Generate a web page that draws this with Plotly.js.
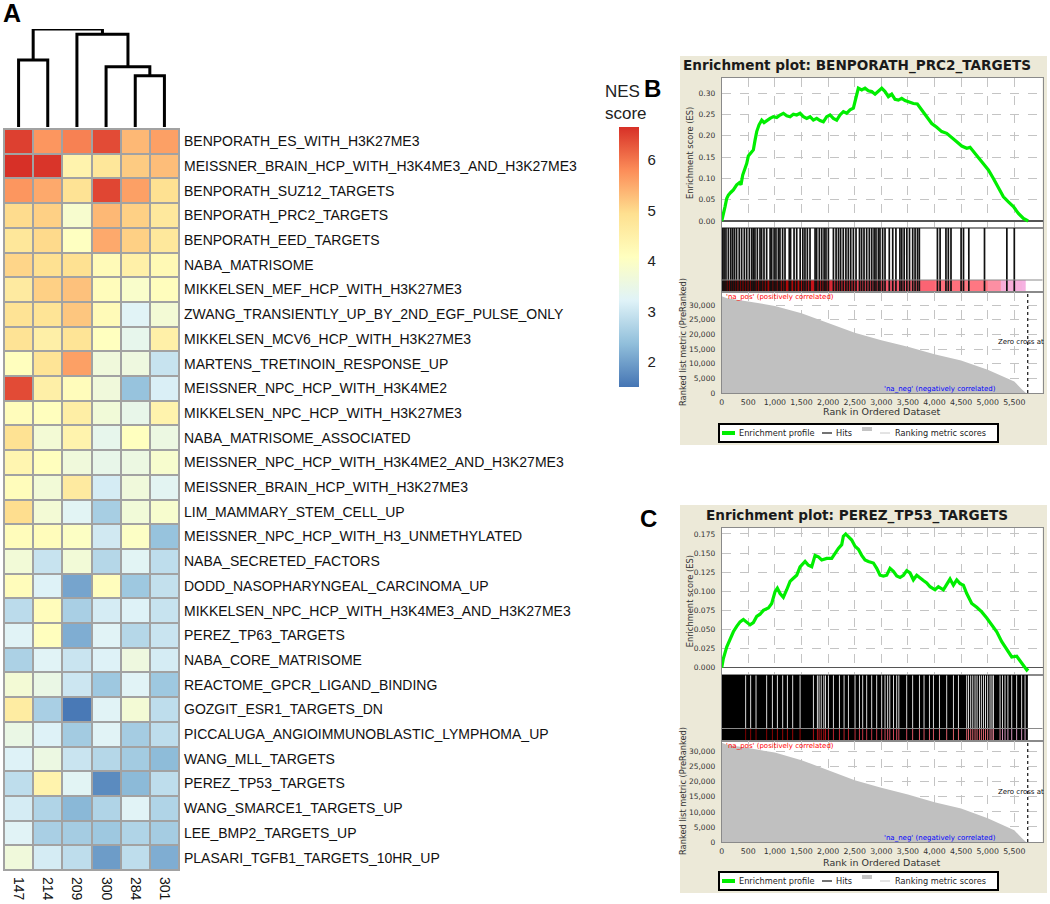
<!DOCTYPE html>
<html><head><meta charset="utf-8">
<script src="https://cdn.plot.ly/plotly-3.0.1.min.js"></script>
<style>html,body{margin:0;padding:0;background:#fff}</style>
</head><body><div id="chart" style="width:1050px;height:904px"></div>
<script>
// ================= DATA =================
const geneSets = [
 'BENPORATH_ES_WITH_H3K27ME3','MEISSNER_BRAIN_HCP_WITH_H3K4ME3_AND_H3K27ME3','BENPORATH_SUZ12_TARGETS',
 'BENPORATH_PRC2_TARGETS','BENPORATH_EED_TARGETS','NABA_MATRISOME','MIKKELSEN_MEF_HCP_WITH_H3K27ME3',
 'ZWANG_TRANSIENTLY_UP_BY_2ND_EGF_PULSE_ONLY','MIKKELSEN_MCV6_HCP_WITH_H3K27ME3','MARTENS_TRETINOIN_RESPONSE_UP',
 'MEISSNER_NPC_HCP_WITH_H3K4ME2','MIKKELSEN_NPC_HCP_WITH_H3K27ME3','NABA_MATRISOME_ASSOCIATED',
 'MEISSNER_NPC_HCP_WITH_H3K4ME2_AND_H3K27ME3','MEISSNER_BRAIN_HCP_WITH_H3K27ME3','LIM_MAMMARY_STEM_CELL_UP',
 'MEISSNER_NPC_HCP_WITH_H3_UNMETHYLATED','NABA_SECRETED_FACTORS','DODD_NASOPHARYNGEAL_CARCINOMA_UP',
 'MIKKELSEN_NPC_HCP_WITH_H3K4ME3_AND_H3K27ME3','PEREZ_TP63_TARGETS','NABA_CORE_MATRISOME',
 'REACTOME_GPCR_LIGAND_BINDING','GOZGIT_ESR1_TARGETS_DN','PICCALUGA_ANGIOIMMUNOBLASTIC_LYMPHOMA_UP',
 'WANG_MLL_TARGETS','PEREZ_TP53_TARGETS','WANG_SMARCE1_TARGETS_UP','LEE_BMP2_TARGETS_UP',
 'PLASARI_TGFB1_TARGETS_10HR_UP'
];
const samples = ['147','214','209','300','284','301'];
const nesScores = [
 [6.50,5.70,5.90,6.40,5.35,5.60],
 [6.65,6.60,4.40,4.75,5.15,5.30],
 [5.70,5.50,4.85,6.45,5.60,4.90],
 [4.97,5.10,3.85,5.35,5.10,4.70],
 [4.75,5.00,4.05,5.50,5.10,4.72],
 [5.05,4.90,4.90,4.20,4.50,4.25],
 [4.65,5.10,5.25,4.15,3.90,4.12],
 [4.85,4.82,5.20,4.20,3.25,3.75],
 [4.85,4.52,4.82,4.08,3.40,4.50],
 [4.10,4.82,5.60,3.65,3.60,2.95],
 [6.40,4.52,4.15,3.65,2.42,3.15],
 [4.15,4.10,4.55,3.70,3.45,4.40],
 [4.88,3.75,4.40,3.40,4.08,3.55],
 [4.35,4.10,3.65,3.45,3.55,3.85],
 [4.15,3.72,4.65,3.10,3.65,3.30],
 [4.95,3.75,3.28,2.60,3.70,3.85],
 [4.15,4.15,4.00,3.05,3.98,2.42],
 [3.72,2.95,3.72,2.75,3.28,2.85],
 [4.15,3.20,2.05,4.12,2.50,2.90],
 [2.82,4.15,2.62,3.10,3.20,2.95],
 [3.25,4.10,2.15,3.25,2.75,2.97],
 [2.65,3.25,2.97,3.20,3.60,3.10],
 [3.75,3.50,3.00,2.50,3.25,2.50],
 [4.60,2.62,1.55,3.25,3.75,2.85],
 [3.50,3.20,2.55,3.25,2.58,2.85],
 [3.20,3.55,2.97,2.75,2.55,2.32],
 [2.85,4.40,3.28,1.75,2.30,2.85],
 [3.10,2.70,2.28,2.70,3.25,2.70],
 [3.25,2.62,2.58,2.50,2.70,2.58],
 [3.65,3.10,2.85,1.95,2.85,2.15]
];
const nesTicks = [2,3,4,5,6];
// dendrogram merges: [child a, child b, height]; leaves 0..5, merges numbered from 6
const dendroMerges = [
 [4,5,5.13],
 [3,6,6.03],
 [0,1,6.70],
 [2,7,9.27],
 [8,9,9.80]
];

// ranked list (shared by panels B and C)
const rankedListRank   = [0, 100, 500, 1000, 1500, 2000, 2500, 3000, 3500, 4000, 4500, 5000, 5250, 5500, 5640, 5720];
const rankedListMetric = [33000, 32300, 31200, 29700, 27200, 23800, 20500, 18000, 15800, 13200, 11100, 7900, 6000, 3900, 1300, 0];
const zeroCrossRank = 5752;
const rankTickVals = [0,500,1000,1500,2000,2500,3000,3500,4000,4500,5000,5500];

// Panel B: BENPORATH_PRC2_TARGETS
const esB_rank = [0,31,63,94,125,169,219,282,332,363,395,439,470,501,545,595,627,658,702,752,796,846,909,971,1034,1097,1159,1222,1285,1347,1410,1473,1535,1598,1661,1723,1786,1848,1911,1974,2036,2099,2162,2224,2287,2350,2412,2475,2506,2538,2569,2632,2694,2757,2820,2882,2945,3008,3070,3133,3196,3258,3321,3384,3446,3509,3603,3678,3760,3854,3948,4042,4136,4230,4324,4418,4512,4606,4668,4731,4825,4919,5013,5107,5201,5295,5389,5483,5577,5671,5760];
const esB_score = [0,0.014,0.034,0.053,0.061,0.067,0.073,0.085,0.090,0.085,0.108,0.124,0.135,0.153,0.159,0.167,0.190,0.210,0.226,0.237,0.231,0.236,0.241,0.245,0.243,0.249,0.253,0.247,0.245,0.251,0.249,0.253,0.245,0.241,0.245,0.237,0.241,0.236,0.233,0.245,0.249,0.241,0.237,0.249,0.257,0.253,0.261,0.265,0.280,0.300,0.312,0.308,0.312,0.306,0.304,0.298,0.304,0.312,0.304,0.292,0.298,0.286,0.284,0.288,0.283,0.280,0.276,0.275,0.261,0.245,0.229,0.220,0.210,0.206,0.197,0.186,0.176,0.171,0.173,0.163,0.147,0.132,0.120,0.100,0.079,0.057,0.045,0.034,0.018,0.006,0];
const hitsB = [20,45,80,125,170,205,240,280,330,375,425,470,520,565,595,625,670,720,750,795,845,910,940,985,1020,1065,1095,1145,1190,1270,1295,1360,1410,1475,1525,1565,1610,1660,1755,1785,1835,1880,1925,1960,2005,2100,2150,2195,2235,2285,2335,2380,2425,2475,2525,2590,2630,2675,2725,2775,2820,2865,2900,2945,2975,3025,3070,3150,3215,3275,3350,3385,3430,3480,3530,3590,3635,3680,3715,4055,4105,4215,4260,4310,4500,4545,4645,4940,5360,5500];

// Panel C: PEREZ_TP53_TARGETS
const esC_rank = [0,31,94,157,219,282,345,407,470,533,595,658,721,783,877,940,1003,1046,1097,1159,1222,1285,1347,1410,1473,1567,1629,1692,1755,1817,1880,1974,2068,2130,2193,2256,2287,2331,2381,2444,2506,2569,2632,2694,2757,2851,2914,2976,3039,3102,3164,3227,3290,3352,3415,3478,3540,3603,3666,3728,3791,3854,3916,4010,4073,4167,4230,4292,4355,4418,4480,4543,4606,4700,4794,4888,4982,5076,5170,5264,5358,5452,5546,5640,5734,5760];
const esC_score = [0,0.012,0.027,0.038,0.047,0.054,0.060,0.063,0.060,0.056,0.059,0.067,0.070,0.075,0.078,0.084,0.0995,0.104,0.097,0.092,0.102,0.113,0.117,0.121,0.132,0.139,0.134,0.132,0.147,0.145,0.141,0.143,0.143,0.150,0.156,0.161,0.172,0.175,0.172,0.167,0.159,0.155,0.147,0.141,0.139,0.137,0.130,0.121,0.120,0.121,0.130,0.126,0.120,0.118,0.121,0.127,0.124,0.115,0.121,0.117,0.114,0.111,0.106,0.102,0.106,0.102,0.110,0.116,0.108,0.115,0.110,0.108,0.097,0.084,0.079,0.073,0.065,0.056,0.047,0.034,0.024,0.014,0.015,0.006,-0.003,-0.001];
// hits in C are nearly continuous: ranks of the visible gaps between hits
const hitsC_gaps = [451,545,645,846,952,1046,1147,1234,1335,1473,1723,1798,1830,1870,1920,1950,2005,2099,2212,2300,2381,2506,2588,2651,2726,2820,2914,3008,3070,3120,3160,3230,3290,3330,3478,3590,3716,3803,3904,3979,4092,4230,4355,4449,4606,4640,4681,4720,4762,4800,4844,4880,4919,4960,5000,5044,5080,5107,5232,5280,5326,5380,5452,5545,5639,5702];
const hitsC_first = 0, hitsC_last = 5755;

// ================= LAYOUT HELPERS =================
const W = 1050, H = 904;
const fx = p => p / W;
const fy = p => 1 - p / H;
const domX = (a, b) => [fx(a), fx(b)];
const domY = (top, bot) => [fy(bot), fy(top)];
const GS = 'DejaVu Sans, Verdana, sans-serif';
const AR = 'Liberation Sans, Arial, sans-serif';

const traces = [];
const shapes = [];
const annotations = [];
const layout = {
  width: W, height: H, autosize: false,
  margin: {l:0, r:0, t:0, b:0, pad:0},
  paper_bgcolor: '#ffffff', plot_bgcolor: 'rgba(0,0,0,0)',
  showlegend: false, hovermode: false,
  shapes: shapes, annotations: annotations
};

function rectPx(x0, x1, y0, y1, fill, line, layer) {
  shapes.push({type:'rect', xref:'paper', yref:'paper', x0:fx(x0), x1:fx(x1), y0:fy(y1), y1:fy(y0),
    fillcolor: fill, line: line || {width:0}, layer: layer || 'below'});
}
function linePx(x0, x1, y0, y1, color, width, dash) {
  shapes.push({type:'line', xref:'paper', yref:'paper', x0:fx(x0), x1:fx(x1), y0:fy(y0), y1:fy(y1),
    line:{color:color, width:width, dash: dash || 'solid'}, layer:'above'});
}
function textPx(x, y, text, opts) {
  annotations.push(Object.assign({xref:'paper', yref:'paper', x:fx(x), y:fy(y), text:text, showarrow:false,
    xanchor:'center', yanchor:'middle', font:{family:GS, size:9, color:'#222'}}, opts || {}));
}

// ================= PANEL A =================
const HX0 = 4, HX1 = 179, HY0 = 129, HY1 = 870;
rectPx(HX0 - 1, HX1 + 1, HY0 - 1, HY1 + 1, '#A2A2A2');

const rdylbu = ['#4575B4','#91BFDB','#E0F3F8','#FFFFBF','#FEE090','#FC8D59','#D73027'];
const nesScale = rdylbu.map((c, i) => [i / (rdylbu.length - 1), c]);
const colIdx = samples.map((_, i) => i);
const rowIdx = geneSets.map((_, i) => i);

traces.push({
  type:'heatmap', xaxis:'x', yaxis:'y', x: colIdx, y: rowIdx, z: nesScores,
  colorscale: nesScale, zmin: 1.5, zmax: 6.65, xgap: 2, ygap: 2,
  colorbar: {
    thickness: 20, thicknessmode:'pixels', len: 260, lenmode:'pixels',
    x: fx(619), xanchor:'left', xpad: 0, y: fy(257), yanchor:'middle', ypad: 0,
    outlinewidth: 0, ticks:'outside', ticklen: 6, tickcolor:'rgba(0,0,0,0)',
    tickvals: nesTicks, ticktext: nesTicks.map(String),
    tickfont: {family: AR, size: 15, color:'#222'}
  }
});
layout.xaxis = {domain: domX(HX0, HX1), range: [-0.5, samples.length - 0.5], anchor:'y',
  tickvals: colIdx, ticktext: samples, tickangle: 90, ticks:'', showgrid:false, zeroline:false,
  showline:false, ticklabelstandoff: 6, tickfont:{family:AR, size:14, color:'#111'}};
layout.yaxis = {domain: domY(HY0, HY1), range: [geneSets.length - 0.5, -0.5], anchor:'x', side:'right',
  tickvals: rowIdx, ticktext: geneSets, ticks:'', showgrid:false, zeroline:false, showline:false,
  ticklabelstandoff: 4, tickfont:{family:AR, size:14, color:'#111'}};
textPx(603, 102, 'NES<br>score', {xanchor:'left', align:'left', font:{family:AR, size:17, color:'#222'}});

// dendrogram
(function(){
  const nx = colIdx.slice(), nh = colIdx.map(() => 0);
  const dx = [], dy = [];
  dendroMerges.forEach(m => {
    const [a, b, h] = m;
    dx.push(nx[a], nx[a], nx[b], nx[b], null);
    dy.push(nh[a], h, h, nh[b], null);
    nx.push((nx[a] + nx[b]) / 2); nh.push(h);
  });
  traces.push({type:'scatter', mode:'lines', xaxis:'x2', yaxis:'y2', x: dx, y: dy,
    line:{color:'#000', width:3}, cliponaxis:false});
  const hmax = Math.max(...dendroMerges.map(m => m[2]));
  layout.xaxis2 = {domain: domX(HX0, HX1), range:[-0.5, samples.length - 0.5], anchor:'y2', visible:false};
  layout.yaxis2 = {domain: domY(29, 127), range:[0, hmax], anchor:'x2', visible:false};
})();
textPx(12, 13, '<b>A</b>', {font:{family:AR, size:25, color:'#000'}});

// ================= GSEA PANELS =================
const XL = 721.7, XR = 1042.5, XRANGE = [0, 6030];
const barScale = [[0,'#F6B4E4'],[0.2,'#F7ACD8'],[0.26,'#FF8088'],[0.45,'#FF6A78'],[0.55,'#F05468'],
                  [0.65,'#E03848'],[0.8,'#D01820'],[0.9,'#B00808'],[1,'#8A0000']];

function gseaPanel(n, g, title, esRank, esScore, hitsDraw) {
  const xa = 'x' + n, ya = 'y' + n, xb = 'x' + (n+1), yb = 'y' + (n+1), xc = 'x' + (n+2), yc = 'y' + (n+2);
  rectPx(680, 1047, g.panelTop, g.panelBot, '#ECE9D8');
  rectPx(XL, XR, g.esTop, g.metBot, '#FFFFFF');
  textPx(857, g.titleY, '<b>Enrichment plot: ' + title + '</b>', {font:{family:GS, size:13.6, color:'#1a1a1a'}});

  const frame = {showline:true, mirror:true, linecolor:'#8a8a8a', linewidth:1};
  const grid = {showgrid:true, gridcolor:'#C4C4C4', griddash:'dash', gridwidth:1};
  const tf = {family:GS, size:7.5, color:'#333'};

  // ES
  layout['xaxis' + n] = Object.assign({domain: domX(XL, XR), range: XRANGE, anchor: ya, tickvals: rankTickVals,
    showticklabels:false, ticks:'', zeroline:false}, frame, grid);
  layout['yaxis' + n] = Object.assign({domain: domY(g.esTop, g.esBot), range: g.esRange, anchor: xa,
    dtick: g.esDtick, tick0: 0, tickformat: g.esFmt, ticks:'', ticklabelstandoff: 4, tickfont: tf,
    zeroline:true, zerolinecolor:'#555', zerolinewidth:1.5}, frame, grid);
  traces.push({type:'scatter', mode:'lines', xaxis: xa, yaxis: ya, x: esRank, y: esScore,
    line:{color:'#00EE00', width:3.2}});

  // hits + colour bar
  const barFrac = (g.hitsBot - g.barTop) / (g.hitsBot - g.esBot);
  layout['xaxis' + (n+1)] = Object.assign({domain: domX(XL, XR), range: XRANGE, anchor: yb,
    showticklabels:false, ticks:'', showgrid:false, zeroline:false}, frame);
  layout['yaxis' + (n+1)] = Object.assign({domain: domY(g.esBot, g.hitsBot), range:[0,1], anchor: xb,
    showticklabels:false, ticks:'', showgrid:false, zeroline:false}, frame);
  traces.push({type:'heatmap', xaxis: xb, yaxis: yb, x: rankedListRank, y:[0, barFrac],
    z:[rankedListMetric.slice(0, -1)], colorscale: barScale, zmin: 0, zmax: Math.max(...rankedListMetric),
    showscale:false});
  hitsDraw(xb, yb);
  shapes.push({type:'line', xref: xb + ' domain', yref: yb, x0:0, x1:1, y0: barFrac, y1: barFrac,
    line:{color:'#8a8a8a', width:1}, layer:'above'});

  // ranked metric
  layout['xaxis' + (n+2)] = Object.assign({domain: domX(XL, XR), range: XRANGE, anchor: yc,
    tickvals: rankTickVals, tickformat: ',d', ticks:'', ticklabelstandoff: 2,
    tickfont:{family:GS, size:7.8, color:'#333'}, zeroline:false}, frame, grid);
  layout['yaxis' + (n+2)] = Object.assign({domain: domY(g.hitsBot, g.metBot), range: g.metRange, anchor: xc,
    dtick: 5000, tick0: 0, tickformat: ',d', ticks:'', ticklabelstandoff: 4, tickfont: tf,
    zeroline:false}, frame, grid);
  traces.push({type:'scatter', mode:'lines', xaxis: xc, yaxis: yc, x: rankedListRank, y: rankedListMetric,
    fill:'tozeroy', fillcolor:'#C0C0C0', line:{width:0, color:'#C0C0C0'}});
  traces.push({type:'scatter', mode:'lines', xaxis: xc, yaxis: yc, x:[zeroCrossRank, zeroCrossRank],
    y: g.metRange, line:{color:'#222', width:1.3, dash:'dot'}});

  textPx(XL + 2, g.hitsBot + 5, "'na_pos' (positively correlated)", {xanchor:'left', font:{family:GS, size:7, color:'#FF0000'}});
  textPx(882, g.metBot - 4, "'na_neg' (negatively correlated)", {xanchor:'left', font:{family:GS, size:7, color:'#0000FF'}});
  textPx(996, g.zeroY, 'Zero cross at', {xanchor:'left', font:{family:GS, size:7, color:'#111'}});

  // axis titles
  textPx(690, (g.esTop + g.esBot) / 2, 'Enrichment score (ES)', {textangle:-90, font:{family:GS, size:8.3, color:'#333'}});
  textPx(683, g.metricTitleY, 'Ranked list metric (PreRanked)', {textangle:-90, font:{family:GS, size:8.3, color:'#333'}});
  textPx((XL + XR) / 2, g.xTitleY, 'Rank in Ordered Dataset', {font:{family:GS, size:9.5, color:'#333'}});

  // legend
  const t = g.legendTop, m = t + 9;
  const lf = {family:GS, size:8.2, color:'#222'};
  rectPx(719, 998, t, t + 18, '#FFFFFF', {color:'#000', width:2}, 'above');
  linePx(722, 735, m, m, '#00EE00', 4);
  textPx(737, m, 'Enrichment profile', {xanchor:'left', font:lf});
  linePx(822, 832, m, m, '#444', 1.5);
  textPx(834, m, 'Hits', {xanchor:'left', font:lf});
  linePx(862, 872, t + 4, t + 4, '#888', 1);
  linePx(862, 872, t + 6, t + 6, '#888', 1);
  linePx(880, 890, m, m, '#C8C8C8', 1);
  textPx(893, m, 'Ranking metric scores', {xanchor:'left', font:lf});
}

// Panel B
gseaPanel(3, {panelTop:56, panelBot:445, titleY:66, esTop:78, esBot:228, barTop:280, hitsBot:292, metBot:393,
  esRange:[-0.0164, 0.3359], esDtick:0.05, esFmt:'.2f', metRange:[0, 34430],
  zeroY:342, metricTitleY:342, xTitleY:412, legendTop:424},
  'BENPORATH_PRC2_TARGETS', esB_rank, esB_score,
  function(xa, ya){
    const hx = [], hy = [];
    hitsB.forEach(r => { hx.push(r, r, null); hy.push(0, 1, null); });
    traces.push({type:'scatter', mode:'lines', xaxis: xa, yaxis: ya, x: hx, y: hy, line:{color:'#111', width:1.7}});
  });

// Panel C
gseaPanel(6, {panelTop:505, panelBot:893, titleY:515, esTop:527.7, esBot:675, barTop:728.5, hitsBot:740.5, metBot:842,
  esRange:[-0.0096, 0.1832], esDtick:0.025, esFmt:'.3f', metRange:[0, 33720],
  zeroY:792, metricTitleY:791, xTitleY:862, legendTop:872},
  'PEREZ_TP53_TARGETS', esC_rank, esC_score,
  function(xa, ya){
    const half = 8;
    const px = [], py = [];
    let start = hitsC_first;
    const addRun = (a, b) => { if (b > a) { px.push(a, b, b, a, a, null); py.push(0, 0, 1, 1, 0, null); } };
    hitsC_gaps.forEach(gp => { addRun(start, gp - half); start = gp + half; });
    addRun(start, hitsC_last);
    traces.push({type:'scatter', mode:'lines', xaxis: xa, yaxis: ya, x: px, y: py, fill:'toself',
      fillcolor:'#000', line:{width:0, color:'#000'}});
  });

textPx(652, 88, '<b>B</b>', {font:{family:AR, size:24, color:'#000'}});
textPx(648, 518, '<b>C</b>', {font:{family:AR, size:24, color:'#000'}});

Plotly.newPlot('chart', traces, layout, {staticPlot:true, displayModeBar:false});
</script>
</body></html>
